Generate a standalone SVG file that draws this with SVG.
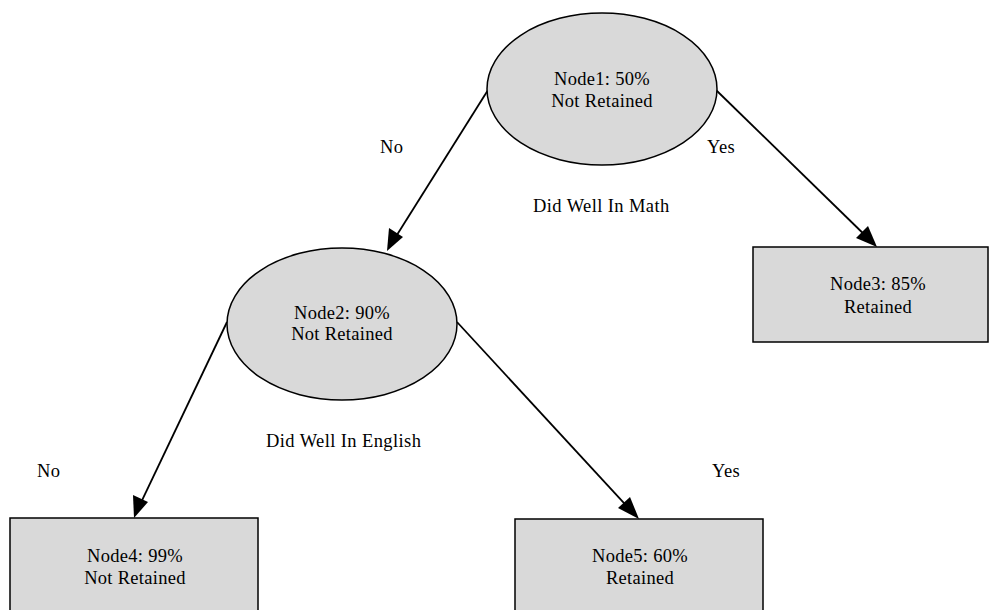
<svg xmlns="http://www.w3.org/2000/svg" width="990" height="610" viewBox="0 0 990 610">
<style>
.n{fill:#d9d9d9;stroke:#000;stroke-width:1.5}
.t{font-family:'Liberation Serif','Times New Roman',Tinos,'DejaVu Serif',serif;font-size:18.5px;letter-spacing:0.3px;fill:#000;text-anchor:middle}
.l{font-family:'Liberation Serif','Times New Roman',Tinos,'DejaVu Serif',serif;font-size:18.5px;letter-spacing:0.4px;fill:#000}
.c{stroke:#000;stroke-width:1.8;fill:none}
</style>
<rect width="990" height="610" fill="#fff"/>
<g id="connectors">
<line class="c" x1="488" y1="90" x2="390" y2="246"/>
<path d="M387,251 L389,228 L403,237 z" fill="#000"/>
<line class="c" x1="716" y1="90" x2="873" y2="243"/>
<path d="M877,247 L856,238 L868,226 z" fill="#000"/>
<line class="c" x1="227" y1="322" x2="136" y2="513"/>
<path d="M134,518 L133,495 L148,502 z" fill="#000"/>
<line class="c" x1="457" y1="322" x2="635" y2="515"/>
<path d="M639,519 L618,508 L630,497 z" fill="#000"/>
</g>
<g id="node1">
<ellipse class="n" cx="602" cy="89" rx="115" ry="76"/>
<text class="t" x="602" y="85">Node1: 50%</text>
<text class="t" x="602" y="107">Not Retained</text>
</g>
<g id="node2">
<ellipse class="n" cx="342" cy="324" rx="115" ry="76"/>
<text class="t" x="342" y="319">Node2: 90%</text>
<text class="t" x="342" y="340">Not Retained</text>
</g>
<g id="node3">
<rect class="n" x="753" y="247" width="235" height="95"/>
<text class="t" x="878" y="290">Node3: 85%</text>
<text class="t" x="878" y="313">Retained</text>
</g>
<g id="node4">
<rect class="n" x="10" y="518" width="248" height="100"/>
<text class="t" x="135" y="562">Node4: 99%</text>
<text class="t" x="135" y="584">Not Retained</text>
</g>
<g id="node5">
<rect class="n" x="515" y="519" width="248" height="100"/>
<text class="t" x="640" y="562">Node5: 60%</text>
<text class="t" x="640" y="584">Retained</text>
</g>
<g id="labels">
<text class="l" x="380" y="153">No</text>
<text class="l" x="707" y="153">Yes</text>
<text class="l" x="533" y="212">Did Well In Math</text>
<text class="l" x="266" y="447">Did Well In English</text>
<text class="l" x="37" y="477">No</text>
<text class="l" x="712" y="477">Yes</text>
</g>
</svg>
